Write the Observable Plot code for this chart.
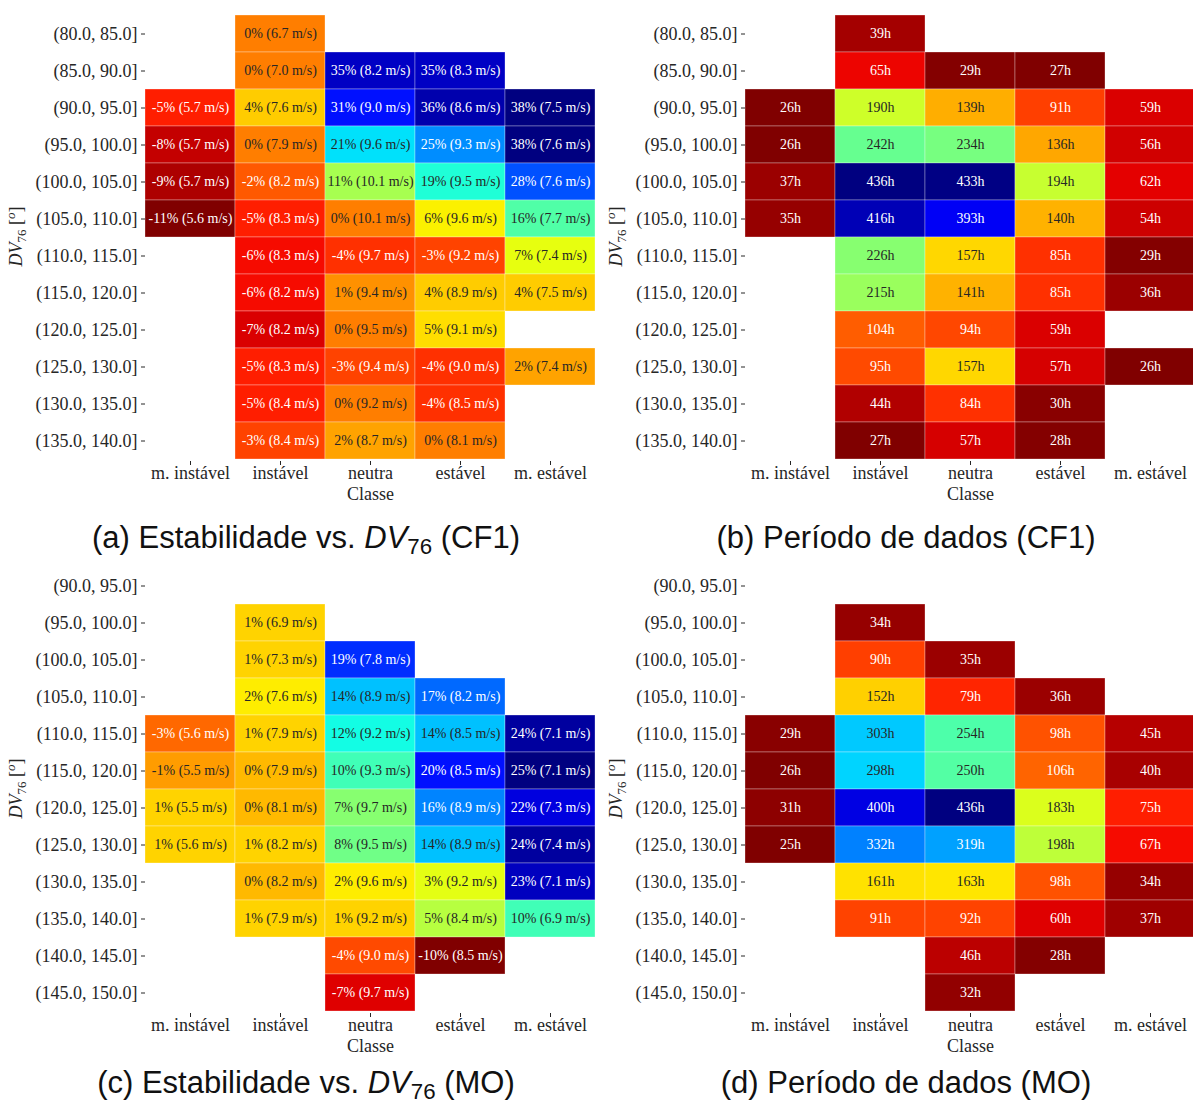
<!DOCTYPE html>
<html>
<head>
<meta charset="utf-8">
<script src="https://cdn.jsdelivr.net/npm/d3@7"></script>
<script src="https://cdn.jsdelivr.net/npm/@observablehq/plot@0.6"></script>
<style>
  body { margin: 0; background: #fff; }
  #fig { position: relative; width: 1193px; height: 1106px; overflow: hidden; }
  .panel { position: absolute; width: 600px; height: 510px; }
  .caption { position: absolute; width: 600px; text-align: center;
    font-family: "Liberation Sans", Arial, sans-serif; font-size: 31px; line-height: 30px; color: #111; }
  .caption sub { font-size: 0.72em; vertical-align: -0.25em; line-height: 0; }
</style>
</head>
<body>
<div id="fig"></div>
<script>
// Stability classes (columns) and wind-direction bins (rows)
const classes = ["m. instável", "instável", "neutra", "estável", "m. estável"];

const binsCF1 = ["(80.0, 85.0]", "(85.0, 90.0]", "(90.0, 95.0]", "(95.0, 100.0]",
  "(100.0, 105.0]", "(105.0, 110.0]", "(110.0, 115.0]", "(115.0, 120.0]",
  "(120.0, 125.0]", "(125.0, 130.0]", "(130.0, 135.0]", "(135.0, 140.0]"];

const binsMO = ["(90.0, 95.0]", "(95.0, 100.0]", "(100.0, 105.0]", "(105.0, 110.0]",
  "(110.0, 115.0]", "(115.0, 120.0]", "(120.0, 125.0]", "(125.0, 130.0]",
  "(130.0, 135.0]", "(135.0, 140.0]", "(140.0, 145.0]", "(145.0, 150.0]"];

// CF1: deviation (%), mean wind speed (m/s) and hours of data per cell
const devCF1 = [
  [null, 0, null, null, null],
  [null, 0, 35, 35, null],
  [-5, 4, 31, 36, 38],
  [-8, 0, 21, 25, 38],
  [-9, -2, 11, 19, 28],
  [-11, -5, 0, 6, 16],
  [null, -6, -4, -3, 7],
  [null, -6, 1, 4, 4],
  [null, -7, 0, 5, null],
  [null, -5, -3, -4, 2],
  [null, -5, 0, -4, null],
  [null, -3, 2, 0, null]
];
const speedCF1 = [
  [null, 6.7, null, null, null],
  [null, 7.0, 8.2, 8.3, null],
  [5.7, 7.6, 9.0, 8.6, 7.5],
  [5.7, 7.9, 9.6, 9.3, 7.6],
  [5.7, 8.2, 10.1, 9.5, 7.6],
  [5.6, 8.3, 10.1, 9.6, 7.7],
  [null, 8.3, 9.7, 9.2, 7.4],
  [null, 8.2, 9.4, 8.9, 7.5],
  [null, 8.2, 9.5, 9.1, null],
  [null, 8.3, 9.4, 9.0, 7.4],
  [null, 8.4, 9.2, 8.5, null],
  [null, 8.4, 8.7, 8.1, null]
];
const hoursCF1 = [
  [null, 39, null, null, null],
  [null, 65, 29, 27, null],
  [26, 190, 139, 91, 59],
  [26, 242, 234, 136, 56],
  [37, 436, 433, 194, 62],
  [35, 416, 393, 140, 54],
  [null, 226, 157, 85, 29],
  [null, 215, 141, 85, 36],
  [null, 104, 94, 59, null],
  [null, 95, 157, 57, 26],
  [null, 44, 84, 30, null],
  [null, 27, 57, 28, null]
];

// MO: deviation (%), mean wind speed (m/s) and hours of data per cell
const devMO = [
  [null, null, null, null, null],
  [null, 1, null, null, null],
  [null, 1, 19, null, null],
  [null, 2, 14, 17, null],
  [-3, 1, 12, 14, 24],
  [-1, 0, 10, 20, 25],
  [1, 0, 7, 16, 22],
  [1, 1, 8, 14, 24],
  [null, 0, 2, 3, 23],
  [null, 1, 1, 5, 10],
  [null, null, -4, -10, null],
  [null, null, -7, null, null]
];
const speedMO = [
  [null, null, null, null, null],
  [null, 6.9, null, null, null],
  [null, 7.3, 7.8, null, null],
  [null, 7.6, 8.9, 8.2, null],
  [5.6, 7.9, 9.2, 8.5, 7.1],
  [5.5, 7.9, 9.3, 8.5, 7.1],
  [5.5, 8.1, 9.7, 8.9, 7.3],
  [5.6, 8.2, 9.5, 8.9, 7.4],
  [null, 8.2, 9.6, 9.2, 7.1],
  [null, 7.9, 9.2, 8.4, 6.9],
  [null, null, 9.0, 8.5, null],
  [null, null, 9.7, null, null]
];
const hoursMO = [
  [null, null, null, null, null],
  [null, 34, null, null, null],
  [null, 90, 35, null, null],
  [null, 152, 79, 36, null],
  [29, 303, 254, 98, 45],
  [26, 298, 250, 106, 40],
  [31, 400, 436, 183, 75],
  [25, 332, 319, 198, 67],
  [null, 161, 163, 98, 34],
  [null, 91, 92, 60, 37],
  [null, null, 46, 28, null],
  [null, null, 32, null, null]
];

// matplotlib "jet" colormap (256-entry lookup), used reversed
const JR = [[0, 0], [0.35, 0], [0.66, 1], [0.89, 1], [1, 0.5]];
const JG = [[0, 0], [0.125, 0], [0.375, 1], [0.64, 1], [0.91, 0], [1, 0]];
const JB = [[0, 0.5], [0.11, 1], [0.34, 1], [0.65, 0], [1, 0]];
function seg(x, pts) {
  for (let i = 1; i < pts.length; i++) {
    if (x <= pts[i][0]) {
      const [x0, y0] = pts[i - 1], [x1, y1] = pts[i];
      return y0 + (y1 - y0) * (x - x0) / (x1 - x0);
    }
  }
  return pts[pts.length - 1][1];
}
function jetRGB(x) {
  x = Math.max(0, Math.min(1, x));
  x = Math.min(255, Math.floor(x * 256)) / 255;
  return [seg(x, JR), seg(x, JG), seg(x, JB)];
}
function jetR(t) {
  const [r, g, b] = jetRGB(1 - t);
  return `rgb(${Math.round(r * 255)},${Math.round(g * 255)},${Math.round(b * 255)})`;
}
// relative luminance, to pick a readable annotation colour
function luminance(t) {
  const c = jetRGB(1 - t).map(v => v <= 0.03928 ? v / 12.92 : Math.pow((v + 0.055) / 1.055, 2.4));
  return 0.2126 * c[0] + 0.7152 * c[1] + 0.0722 * c[2];
}

const SERIF = "'Liberation Serif', 'Times New Roman', serif";
const fig = document.getElementById("fig");

function heatmap({bins, values, label, left, top, captionTop, caption}) {
  const data = [];
  bins.forEach((bin, i) => classes.forEach((cls, j) => {
    const v = values[i][j];
    if (v != null) data.push({bin, cls, v, text: label(i, j)});
  }));
  const [lo, hi] = d3.extent(data, d => d.v);
  const darkText = d => luminance((d.v - lo) / (hi - lo)) > 0.36;

  const svg = Plot.plot({
    width: 600, height: 510,
    marginLeft: 145, marginRight: 5, marginTop: 12, marginBottom: 49,
    style: {fontFamily: SERIF, fontSize: "18px", color: "#262626", background: "transparent", overflow: "visible"},
    x: {type: "band", domain: classes, padding: 0, label: null},
    y: {type: "band", domain: bins, padding: 0, label: null},
    color: {type: "linear", domain: [lo, hi], interpolate: jetR},
    marks: [
      Plot.cell(data, {x: "cls", y: "bin", fill: "v", inset: 0, stroke: "white", strokeWidth: 0.6, strokeOpacity: 0.5}),
      Plot.text(data, {filter: d => !darkText(d), x: "cls", y: "bin", text: "text", fill: "white", fontSize: 14, fontFamily: SERIF}),
      Plot.text(data, {filter: darkText, x: "cls", y: "bin", text: "text", fill: "#262626", fontSize: 14, fontFamily: SERIF}),
      Plot.axisY({tickSize: 4, tickPadding: 4, fontSize: 18, label: null}),
      Plot.axisX({tickSize: 4, tickPadding: 1, fontSize: 18, label: null}),
      Plot.text(["Classe"], {frameAnchor: "bottom", lineAnchor: "top", dy: 26, fontSize: 18, fill: "#262626"})
    ]
  });

  // y-axis title: DV_76 [°]
  const t = d3.select(svg).append("text")
    .attr("transform", `translate(22,${(12 + 461) / 2}) rotate(-90)`)
    .attr("text-anchor", "middle")
    .attr("font-family", SERIF).attr("font-size", 18).attr("fill", "#262626");
  t.append("tspan").attr("font-style", "italic").text("DV");
  t.append("tspan").attr("dy", 4).attr("font-size", 13).text("76");
  t.append("tspan").attr("dy", -4).text(" [");
  t.append("tspan").attr("dy", -7).attr("font-size", 13).attr("font-style", "italic").text("o");
  t.append("tspan").attr("dy", 7).text("]");

  const div = document.createElement("div");
  div.className = "panel";
  div.style.left = left + "px";
  div.style.top = top + "px";
  div.appendChild(svg);
  fig.appendChild(div);

  const cap = document.createElement("div");
  cap.className = "caption";
  cap.style.left = (left + 6) + "px";
  cap.style.top = (top + captionTop) + "px";
  cap.innerHTML = caption;
  fig.appendChild(cap);
}

const pctLabel = (dev, speed) => (i, j) => `${dev[i][j]}% (${speed[i][j].toFixed(1)} m/s)`;
const hourLabel = hours => (i, j) => `${hours[i][j]}h`;

heatmap({bins: binsCF1, values: devCF1, label: pctLabel(devCF1, speedCF1), left: 0, top: 0, captionTop: 523,
  caption: "(a) Estabilidade vs. <i>DV</i><sub>76</sub> (CF1)"});
heatmap({bins: binsCF1, values: hoursCF1, label: hourLabel(hoursCF1), left: 600, top: 0, captionTop: 523,
  caption: "(b) Período de dados (CF1)"});
heatmap({bins: binsMO, values: devMO, label: pctLabel(devMO, speedMO), left: 0, top: 552, captionTop: 516,
  caption: "(c) Estabilidade vs. <i>DV</i><sub>76</sub> (MO)"});
heatmap({bins: binsMO, values: hoursMO, label: hourLabel(hoursMO), left: 600, top: 552, captionTop: 516,
  caption: "(d) Período de dados (MO)"});
</script>
</body>
</html>
